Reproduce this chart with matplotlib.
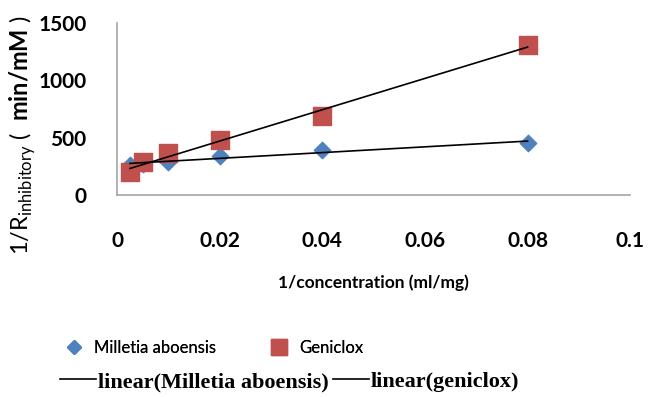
import matplotlib.pyplot as plt
import numpy as np
from matplotlib.lines import Line2D

# data
inv_conc = [0.0025, 0.005, 0.01, 0.02, 0.04, 0.08]
milletia = [262, 270, 290, 340, 392, 455]
geniclox = [200, 288, 366, 480, 690, 1310]
x_ticks = [0, 0.02, 0.04, 0.06, 0.08, 0.1]
x_labels = ["0", "0.02", "0.04", "0.06", "0.08", "0.1"]
y_ticks = [0, 500, 1000, 1500]

blue = "#4f81bd"
red = "#c0504d"
axis_grey = "#a6a6a6"

plt.rcParams["mathtext.fontset"] = "custom"
plt.rcParams["mathtext.rm"] = "Lato"
plt.rcParams["mathtext.bf"] = "Lato:bold"

fig = plt.figure(figsize=(6.51, 3.97), dpi=100)
ax = fig.add_axes([0.18, 0.509, 0.788, 0.433])

x = np.array(inv_conc)
ax.scatter(x, milletia, marker="D", s=70, color=blue, zorder=3)
ax.scatter(x, geniclox, marker="s", s=150, color=red, zorder=4)

# linear trendlines over the data range
for ys in (milletia, geniclox):
    k, b = np.polyfit(x, ys, 1)
    ax.plot([x.min(), x.max()], [k * x.min() + b, k * x.max() + b],
            color="black", lw=1.2, zorder=5)

ax.set_xlim(0, 0.1)
ax.set_ylim(0, 1500)
ax.set_xticks(x_ticks)
ax.set_xticklabels(x_labels)
ax.set_yticks(y_ticks)
for s in ("top", "right"):
    ax.spines[s].set_visible(False)
for s in ("left", "bottom"):
    ax.spines[s].set_color(axis_grey)
    ax.spines[s].set_linewidth(1.2)
ax.tick_params(length=0, labelsize=15)
ax.tick_params(axis="x", pad=26)
ax.tick_params(axis="y", pad=22)
for lab in ax.get_xticklabels() + ax.get_yticklabels():
    lab.set_fontfamily("Lato")
    lab.set_fontweight("bold")

ax.set_xlabel("1/concentration (ml/mg)", fontfamily="Lato", fontweight="bold",
              fontsize=12.5, labelpad=17)

fig.text(0.035, 0.66,
         r"1/R$_{\mathregular{inhibitory}}$ (  $\mathbf{min/mM}$ )",
         rotation=90, fontsize=17, fontfamily="Lato", va="center", ha="center")

# legend rows
h1 = [Line2D([], [], marker="D", ls="", color=blue, ms=7),
      Line2D([], [], marker="s", ls="", color=red, ms=11)]
leg1 = fig.legend(h1, ["Milletia aboensis", "Geniclox"], ncol=2, frameon=False,
                  loc="center", bbox_to_anchor=(0.325, 0.123), columnspacing=3.0,
                  handletextpad=0.4, handlelength=1.6,
                  prop={"family": "Lato", "size": 12})
fig.add_artist(leg1)
h2 = [Line2D([], [], color="black", lw=1.2), Line2D([], [], color="black", lw=1.2)]
fig.legend(h2, ["linear(Milletia aboensis)", "linear(geniclox)"], ncol=2,
           frameon=False, loc="center", bbox_to_anchor=(0.445, 0.038),
           columnspacing=0.2, handlelength=1.6, handletextpad=0.1,
           prop={"family": "Liberation Serif", "weight": "bold", "size": 16})

fig.savefig("out.png", dpi=100)
